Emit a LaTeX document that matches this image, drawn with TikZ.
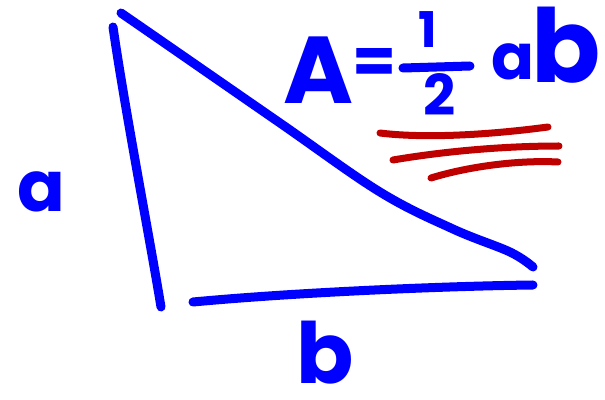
\documentclass[tikz,border=0pt]{standalone}
\usepackage{fontspec}
\setmainfont{Poppins}
\definecolor{penblue}{RGB}{0,0,255}
\definecolor{penred}{RGB}{190,0,0}

\begin{document}
\begin{tikzpicture}[x=.01cm,y=-.01cm,
  stroke/.style={draw=penblue,line width=.09cm,line cap=round,line join=round},
  underline/.style={draw=penred,line width=.07cm,line cap=round},
  ink/.style={text=penblue,font=\bfseries,inner sep=0pt}]
\useasboundingbox (0,0) rectangle (605,400);
% triangle
\draw[stroke] (113,27) .. controls (125,110) and (150,240) .. (161,307);
\draw[stroke] plot[smooth,tension=.6] coordinates
  {(121,13) (163,42) (280,123) (380,192) (453,229) (510,252) (533,267)};
\draw[stroke] (193,302) .. controls (300,292) and (450,286) .. (533,285);
% side labels
\node[ink,font=\bfseries\fontsize{20}{20}\selectfont] (sidea) at (41,192) {a};
\node[ink,font=\bfseries\fontsize{24}{24}\selectfont] (sideb) at (325,353) {b};
% area formula
\node[ink,font=\bfseries\fontsize{27}{27}\selectfont] (area) at (318,70) {A};
\node[ink,font=\bfseries\fontsize{18}{18}\selectfont] (equals) at (375,66) {=};
\node[ink,font=\bfseries\fontsize{14}{14}\selectfont] (numer) at (428,30) {1};
\node[ink,font=\bfseries\fontsize{16}{16}\selectfont] (denom) at (440,95) {2};
\draw[stroke] (403,68) -- (470,66);
\node[ink,font=\bfseries\fontsize{18}{18}\selectfont] (fa) at (513,62) {a};
\node[ink,font=\bfseries\fontsize{29}{29}\selectfont] (fb) at (566,45) {b};
% underlines
\draw[underline] (380,133) .. controls (420,138) and (480,136) .. (548,127);
\draw[underline] (393,160) .. controls (440,152) and (500,146) .. (559,146);
\draw[underline] (431,178) .. controls (470,166) and (520,160) .. (558,162);
\end{tikzpicture}
\end{document}
